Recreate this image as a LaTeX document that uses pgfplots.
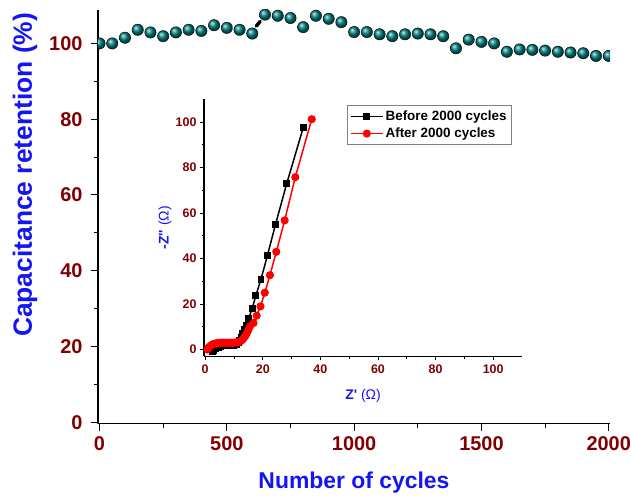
\documentclass[border=0pt]{standalone}
\usepackage{pgfplots}
\pgfplotsset{compat=1.18}
\usepackage{fontspec}
\setmainfont{Liberation Sans}
\definecolor{tickred}{RGB}{128,0,0}
\definecolor{labblue}{RGB}{20,20,245}
\definecolor{ballteal}{RGB}{0,128,128}
\pgfplotstableread{
x y
0 100.0
50 100.0
100 101.5
150 103.6
200 102.9
250 101.9
300 102.9
350 103.6
400 103.3
450 104.8
500 104.1
550 103.6
600 102.6
650 107.6
700 107.3
750 106.7
800 104.3
850 107.3
900 106.5
950 105.6
1000 103.0
1050 103.0
1100 102.4
1150 101.9
1200 102.4
1250 102.6
1300 102.4
1350 101.9
1400 98.7
1450 101.0
1500 100.4
1550 100.0
1600 97.8
1650 98.4
1700 98.3
1750 98.1
1800 97.8
1850 97.6
1900 97.4
1950 96.7
2000 96.7
}\retention
\begin{document}
\begin{tikzpicture}
\begin{axis}[
  scale only axis, width=512bp, height=414bp,
  xmin=-6, xmax=2005, ymin=-0.4, ymax=108.9,
  axis line style={line width=1.2pt},
  axis x line*=bottom, axis y line*=left,
  tick align=outside,
  major tick length=7bp, minor tick length=4bp,
  every tick/.style={black, line width=1pt},
  xtick={0,500,1000,1500,2000}, minor xtick={250,750,1250,1750},
  ytick={0,20,40,60,80,100}, minor ytick={10,30,50,70,90},
  ticklabel style={font=\fontsize{20}{24}\selectfont\bfseries, text=tickred},
  xticklabel style={yshift=-2bp},
  yticklabel style={xshift=-5bp},
  scaled x ticks=false,
  xticklabel={\pgfmathprintnumber[assume math mode=true,1000 sep={}]{\tick}},
  yticklabel={\pgfmathprintnumber[assume math mode=true]{\tick}},
  xlabel={Number of cycles},
  ylabel={Capacitance retention (\%)},
  xlabel style={at={(axis description cs:0.5,-0.1425)}, anchor=center, font=\fontsize{23}{27}\selectfont\bfseries, text=labblue},
  ylabel style={at={(axis description cs:-0.1426,0.601)}, anchor=center, font=\fontsize{26.5}{31}\selectfont\bfseries, text=labblue},
  clip marker paths=true,
]
\addplot[only marks, mark=ball, mark size=5.7bp, ball color=ballteal] table[x=x,y=y] {\retention};
\addplot[black, line width=3.5bp, line cap=round] coordinates {(616,104.6)(631,105.8)};
\end{axis}
\begin{axis}[
  at={(106bp,67.3bp)}, anchor=south west,
  scale only axis, width=318bp, height=257bp,
  xmin=-0.4, xmax=110, ymin=-3, ymax=110,
  axis background/.style={fill=white},
  axis line style={line width=1.1pt},
  axis x line*=bottom, axis y line*=left,
  tick align=outside,
  major tick length=4bp, minor tick length=2.5bp,
  every tick/.style={black, line width=0.8pt},
  xtick={0,20,40,60,80,100}, minor xtick={10,30,50,70,90},
  ytick={0,20,40,60,80,100}, minor ytick={10,30,50,70,90},
  ticklabel style={font=\fontsize{12.5}{14}\selectfont\bfseries, text=tickred},
  xticklabel style={yshift=-1bp},
  xticklabel={\pgfmathprintnumber[assume math mode=true]{\tick}},
  yticklabel={\pgfmathprintnumber[assume math mode=true]{\tick}},
  xlabel={Z\textquotesingle\ \textmd{(Ω)}},
  ylabel={-Z\textquotesingle\textquotesingle\ \textmd{(Ω)}},
  xlabel style={at={(axis description cs:0.5,-0.1545)}, anchor=center, font=\fontsize{14}{17}\selectfont\bfseries, text=labblue},
  ylabel style={at={(axis description cs:-0.1226,0.5)}, anchor=center, font=\fontsize{14}{17}\selectfont\bfseries, text=labblue},
  legend style={at={(rel axis cs:0.969,0.977)}, anchor=north east, draw=gray, line width=0.9pt, font=\fontsize{13.5}{15}\selectfont\bfseries, inner xsep=3bp, inner ysep=3bp, row sep=2bp, cells={anchor=west}},
  legend cell align=left,
  legend image code/.code={\draw[mark repeat=2,mark phase=2,#1] plot coordinates {(0bp,0bp)(16bp,0bp)(32bp,0bp)};},
]
\addplot[black, line width=1.5pt, mark=square*, mark size=2.7bp, mark options={solid}] coordinates {
(2.5,-1.0)(3.0,-0.3)(3.5,0.3)(4.0,0.7)(4.5,1.0)(5.0,1.3)(5.5,1.5)(6.0,1.6)(6.5,1.7)(7.0,1.75)(7.5,1.8)(8.0,1.8)(8.5,1.8)(9.0,1.8)(9.5,1.8)(10.0,1.9)(10.5,2.0)(11.0,2.3)(11.5,3.0)(12.0,4.2)(12.5,5.5)(13.0,7.0)(13.5,8.8)(14.2,10.8)(15.1,13.6)(16.3,18.0)(17.6,23.7)(19.4,31.0)(21.6,41.3)(24.4,54.9)(28.3,72.9)(34.1,97.8)};
\addlegendentry{Before 2000 cycles}
\addplot[red, line width=1.5pt, mark=*, mark size=3.3bp, mark options={solid}] coordinates {
(0.8,0.0)(1.1,0.7)(1.5,1.3)(2.0,1.8)(2.5,2.2)(3.0,2.5)(3.6,2.7)(4.2,2.85)(4.8,2.95)(5.4,3.0)(6.0,3.0)(6.6,3.0)(7.2,3.0)(7.8,3.0)(8.4,3.0)(9.0,3.0)(9.6,3.0)(10.2,3.05)(10.8,3.15)(11.4,3.3)(12.0,3.5)(12.5,3.9)(13.0,4.4)(13.5,5.2)(14.0,6.1)(14.5,7.2)(15.0,8.6)(15.6,10.2)(16.8,11.7)(17.9,14.9)(19.2,19.0)(20.7,25.0)(22.5,32.7)(24.7,43.0)(27.6,56.8)(31.3,75.8)(37.0,101.3)};
\addlegendentry{After 2000 cycles}
\end{axis}
\pgfresetboundingbox
\useasboundingbox (-98bp,-74bp) rectangle (533bp,423.7bp);
\end{tikzpicture}
\end{document}
